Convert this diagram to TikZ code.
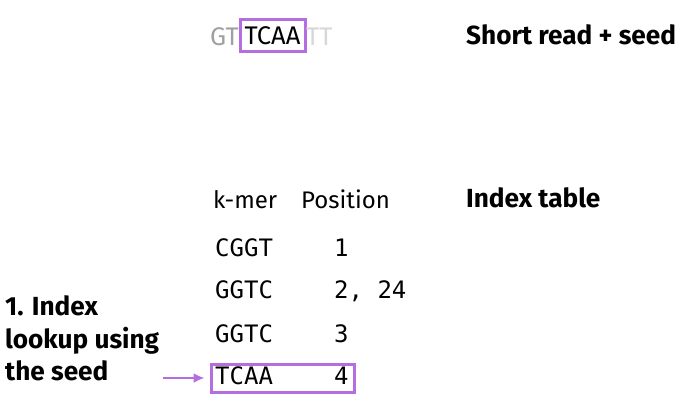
\documentclass[tikz,border=0pt]{standalone}
\usepackage{fontspec}
\setmainfont{Fira Sans}
\setmonofont{DejaVu Sans Mono}
\usepackage{xcolor}
\usetikzlibrary{positioning, arrows.meta}

\definecolor{seedpurple}{RGB}{181,110,224}
\definecolor{readgrey}{RGB}{160,160,160}
\definecolor{fadegrey}{RGB}{215,215,215}

\begin{document}
\begin{tikzpicture}[
    x=1pt, y=1pt,
    title/.style={anchor=base west, inner sep=0pt, font=\fontsize{26.2}{31}\selectfont\bfseries},
    head/.style={anchor=base west, inner sep=0pt, font=\fontsize{24}{29}\selectfont\mdseries},
    cell/.style={anchor=base west, inner sep=0pt, font=\fontsize{24}{29}\selectfont\ttfamily},
    seedbox/.style={draw=seedpurple, line width=3pt, inner sep=0pt},
    readtxt/.style={inner sep=0pt, font=\fontsize{25.5}{30}\selectfont},
    arrow/.style={-{Latex[length=11pt, width=10pt]}, draw=seedpurple, line width=2pt}
]
    \useasboundingbox (0,0) rectangle (686,413);

    % Short read with seed
    \node[seedbox, readtxt, minimum width=65pt, minimum height=32pt] (seed) at (272.5,377) {TCAA};
    \node[readtxt, anchor=base east, text=readgrey] (pre) at (239,367) {GT};
    \node[readtxt, anchor=base west, text=fadegrey] (post) at (306,367) {TT};
    \node[title] (readlabel) at (466,368) {Short read + seed};

    % Index table
    \node[title] (tablelabel) at (466,205) {Index table};
    \node[head] (kmerhead) at (213,204) {k-mer};
    \node[head] (poshead) at (301,204) {Position};

    \node[cell] (k1) at (215,157) {CGGT};
    \node[cell] (p1) at (334,157) {1};
    \node[cell] (k2) at (215,114) {GGTC};
    \node[cell] (p2) at (334,114) {2, 24};
    \node[cell] (k3) at (215,71) {GGTC};
    \node[cell] (p3) at (334,71) {3};
    \node[cell] (k4) at (215,29) {TCAA};
    \node[cell] (p4) at (334,29) {4};
    \node[seedbox, minimum width=143pt, minimum height=28pt] (hit) at (282.5,35) {};

    % Lookup step
    \node[title] (step1) at (5,98) {1. Index};
    \node[title] (step2) at (5,65) {lookup using};
    \node[title] (step3) at (5,33) {the seed};
    \coordinate (from) at (163,35);
    \draw[arrow] (from) -- ([xshift=-5pt]hit.west);
\end{tikzpicture}
\end{document}
